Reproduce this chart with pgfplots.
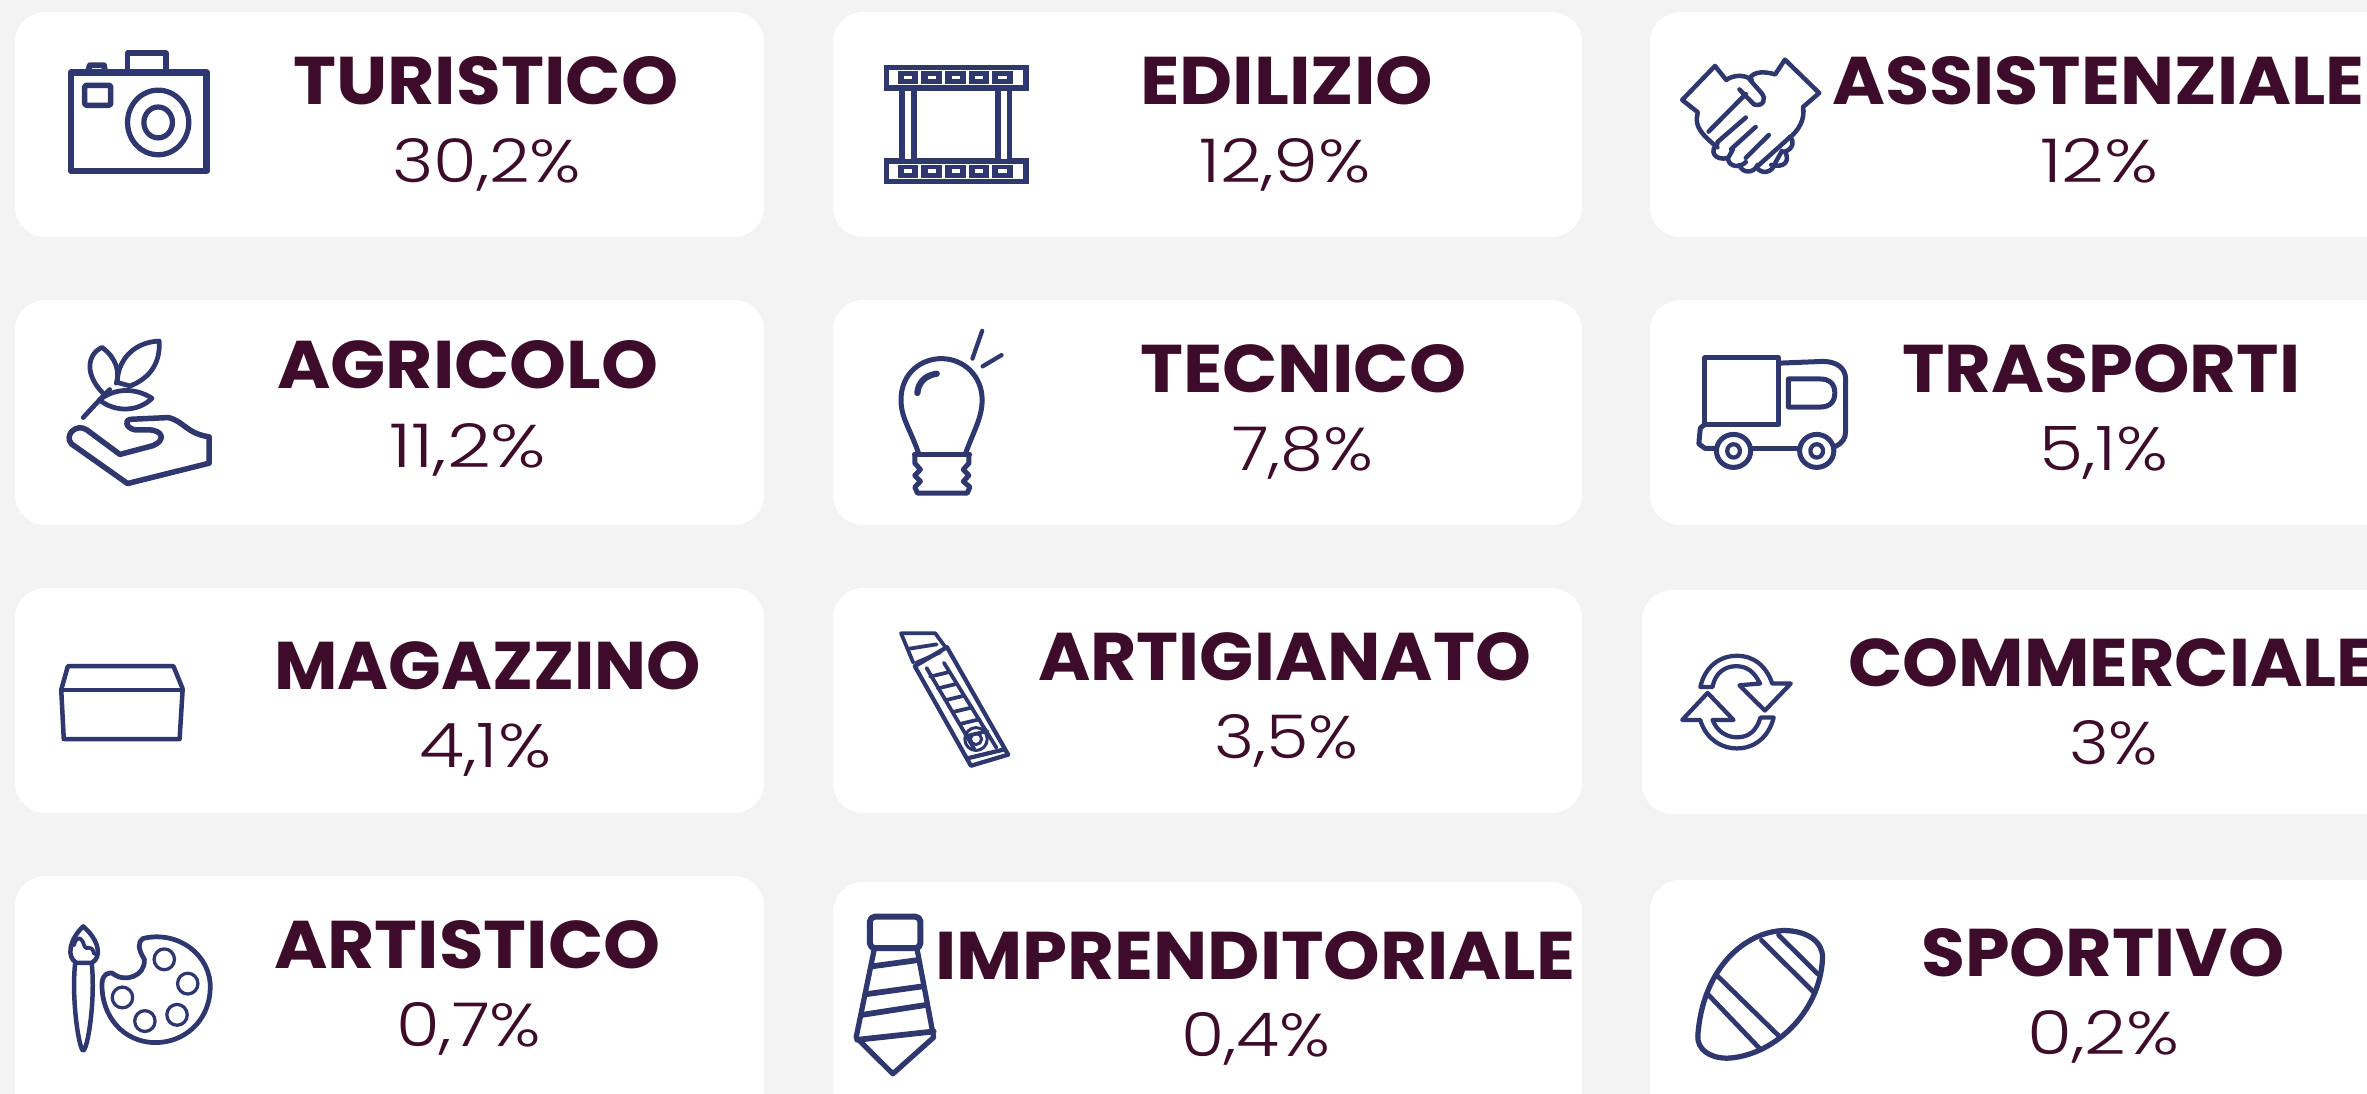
\documentclass[border=0pt]{standalone}
\usepackage{graphicx}
\usepackage{fontspec}
\usepackage{pgfplots}
\pgfplotsset{compat=1.18}
\newfontfamily\titlefont{Poppins}[BoldFont={Poppins Bold}]
\newfontfamily\valfont{Poppins Light}
\definecolor{PageBg}{HTML}{F3F3F3}
\definecolor{TitleInk}{HTML}{3D0C2A}
\definecolor{IconInk}{HTML}{2F376F}

% left, right, baseline, text (all in pixels of the reference)
\newcommand{\ttl}[4]{\node[anchor=base west,inner sep=0pt,text=TitleInk] at (axis cs:#1-3,#3)
  {\resizebox{\dimexpr#2pt-#1pt+6pt\relax}{48pt}{\titlefont\bfseries #4}};}
\newcommand{\val}[4]{\node[anchor=base west,inner sep=0pt,text=TitleInk] at (axis cs:#1-3,#3)
  {\resizebox{\dimexpr#2pt-#1pt+6pt\relax}{44pt}{\valfont #4}};}
\newcommand{\card}[4]{\addplot[fill=white,draw=none,rounded corners=30pt]
  coordinates {(#1,#2) (#3,#2) (#3,#4) (#1,#4)} -- cycle;}

% icons are written in the coordinates of the enlarged crops
\tikzset{
  crop/.style n args={4}{shift={(o)},xshift=#1pt,yshift=-#2pt,x=#3pt,y=-#4pt},
  icon/.style={draw=IconInk,line width=1.25*#1,line join=round,line cap=round},
  icon/.default=4.6pt
}

\begin{document}
\begin{tikzpicture}
\begin{axis}[
  scale only axis,
  width=2367pt,
  height=1094pt,
  xmin=0, xmax=2367,
  ymin=0, ymax=1094,
  y dir=reverse,
  hide axis
]
\addplot[fill=PageBg,draw=none] coordinates {(0,0) (2367,0) (2367,1094) (0,1094)} -- cycle;
\card{15}{12}{764}{237}
\card{833}{12}{1582}{237}
\card{1650}{12}{2420}{237}
\card{15}{300}{764}{525}
\card{833}{300}{1582}{525}
\card{1650}{300}{2420}{525}
\card{15}{588}{764}{813}
\card{833}{588}{1582}{813}
\card{1642}{590}{2420}{814}
\card{15}{876}{764}{1160}
\card{833}{882}{1582}{1160}
\card{1650}{880}{2420}{1160}

\ttl{296}{675}{105}{TURISTICO}
\val{395}{578}{183}{30,2\%}
\ttl{1143}{1430}{105}{EDILIZIO}
\val{1202}{1368}{183}{12,9\%}
\ttl{1835}{2361}{105}{ASSISTENZIALE}
\val{2043}{2155}{183}{12\%}

\ttl{280}{655}{388}{AGRICOLO}
\val{392}{543}{467}{11,2\%}
\ttl{1143}{1463}{392}{TECNICO}
\val{1235}{1370}{470}{7,8\%}
\ttl{1905}{2297}{392}{TRASPORTI}
\val{2042}{2165}{470}{5,1\%}

\ttl{277}{698}{689.5}{MAGAZZINO}
\val{422}{548}{767.5}{4,1\%}
\ttl{1041}{1528}{680}{ARTIGIANATO}
\val{1217}{1355}{758}{3,5\%}
\ttl{1851}{2372}{686}{COMMERCIALE}
\val{2072}{2155}{764}{3\%}

\ttl{277}{657}{968}{ARTISTICO}
\val{399}{538}{1046}{0,7\%}
\ttl{938}{1572}{979}{IMPRENDITORIALE}
\val{1184}{1327}{1056.5}{0,4\%}
\ttl{1924}{2281}{976}{SPORTIVO}
\val{2030}{2176}{1054}{0,2\%}

\coordinate (o) at (axis cs:0,0);
\end{axis}

% camera
\begin{scope}[crop={0}{0}{0.5102}{0.3509}]
\draw[icon=5.4pt] (139,207) rectangle (405,487);
\draw[icon=4.6pt] (250,200) -- (250,152) -- (325,152) -- (325,200);
\draw[icon=4.6pt] (172,205) -- (176,186) -- (204,186) -- (206,205);
\draw[icon=4.4pt,rounded corners=2pt] (166,243) rectangle (217,300);
\draw[icon=4.2pt] (310,349) ellipse [x radius=60,y radius=92];
\draw[icon=4.2pt] (310,349) ellipse [x radius=28,y radius=44];
\end{scope}

% plant on a hand
\begin{scope}[crop={0}{0}{0.5102}{0.3509}]
\draw[icon=3.8pt] (205,1125) .. controls (165,1070) and (170,1010) .. (200,990) .. controls (228,1020) and (235,1060) .. (228,1092);
\draw[icon=3.8pt] (230,1090) .. controls (230,1030) and (260,975) .. (312,972) .. controls (315,1040) and (290,1080) .. (255,1100) -- (230,1090);
\draw[icon=3.8pt] (195,1140) .. controls (220,1110) and (260,1100) .. (298,1135) .. controls (270,1175) and (225,1175) .. (195,1140);
\draw[icon=3.8pt] (163,1190) -- (195,1140) -- (215,1110);
\draw[icon=4.4pt] (255,1195) -- (330,1190) .. controls (360,1200) and (365,1235) .. (410,1245) -- (410,1320) -- (250,1378) -- (140,1265)
  .. controls (125,1240) and (150,1205) .. (170,1225) -- (235,1295) -- (300,1270)
  .. controls (325,1255) and (320,1225) .. (290,1225) -- (265,1225) .. controls (245,1220) and (245,1195) .. (255,1195);
\end{scope}

% film strip
\begin{scope}[crop={800}{0}{0.5102}{0.3509}]
\foreach \ys in {0,266} {
  \fill[IconInk] (165,{185+\ys}) rectangle (448,{258+\ys});
  \fill[white] (175,{200+\ys}) rectangle (438,{243+\ys});
  \fill[IconInk] (165,{215+\ys}) rectangle (172,{228+\ys});
  \fill[IconInk] (441,{215+\ys}) rectangle (448,{228+\ys});
  \foreach \xc in {212,258,305,351,397} {
    \fill[IconInk] ({\xc-20},{203+\ys}) rectangle ({\xc+20},{240+\ys});
    \fill[white] ({\xc-8},{216+\ys}) rectangle ({\xc+8},{226+\ys});
  }
}
\fill[IconInk] (195,258) rectangle (230,452);
\fill[white] (206,258) rectangle (218,452);
\fill[IconInk] (382,258) rectangle (416,452);
\fill[white] (393,258) rectangle (405,452);
\end{scope}

% light bulb
\begin{scope}[crop={800}{0}{0.5102}{0.3509}]
\draw[icon=4pt] (232,1290) .. controls (215,1220) and (198,1190) .. (198,1140) .. controls (198,1060) and (240,1022) .. (277,1022)
  .. controls (320,1022) and (357,1070) .. (357,1140) .. controls (357,1190) and (340,1230) .. (325,1290);
\draw[icon=4.4pt] (225,1295) -- (332,1295);
\draw[icon=4pt] (225,1295) -- (225,1320) -- (236,1338) -- (225,1355) -- (236,1372) -- (225,1388) -- (230,1405) -- (328,1405)
  -- (333,1388) -- (320,1372) -- (331,1355) -- (320,1338) -- (331,1320) -- (331,1295);
\draw[icon=5pt] (230,1120) .. controls (232,1090) and (245,1070) .. (268,1065);
\draw[icon=3.4pt] (338,1022) -- (357,943);
\draw[icon=3.4pt] (358,1044) -- (395,1012);
\end{scope}

% handshake
\begin{scope}[crop={1600}{0}{0.4892}{0.3509}]
\draw[icon=3.6pt] (222,375) -- (298,268);
\draw[icon=3.6pt] (240,420) .. controls (195,370) and (195,350) .. (200,320) -- (168,285) -- (235,188) -- (258,228) .. controls (270,215) and (295,210) .. (310,228);
\draw[icon=3.6pt] (285,255) -- (315,298) .. controls (335,305) and (340,280) .. (330,265) -- (305,225)
  .. controls (315,200) and (340,205) .. (358,212) -- (378,170) -- (448,265) -- (415,305) .. controls (420,340) and (405,375) .. (385,395) -- (325,470);
\draw[icon=3.6pt] (240,405) -- (298,335);
\draw[icon=3.6pt] (268,425) -- (318,362);
\draw[icon=3.6pt] (298,450) -- (345,385);
\draw[icon=3.6pt] (240,410) .. controls (222,430) and (235,460) .. (262,450) -- (272,425);
\draw[icon=3.6pt] (262,455) .. controls (265,475) and (285,480) .. (298,462);
\draw[icon=3.6pt] (285,470) .. controls (290,495) and (315,495) .. (322,470);
\draw[icon=3.6pt] (322,480) .. controls (330,495) and (352,495) .. (358,465) -- (372,430);
\draw[icon=3.6pt] (350,470) .. controls (375,480) and (390,460) .. (378,432) .. controls (395,425) and (398,400) .. (388,390);
\end{scope}

% truck
\begin{scope}[crop={1600}{0}{0.4892}{0.3509}]
\draw[icon=4pt] (214,1020) rectangle (365,1210);
\draw[icon=4pt] (365,1035) -- (455,1030) .. controls (485,1030) and (502,1050) .. (502,1080) -- (502,1230) .. controls (502,1250) and (495,1262) .. (482,1272);
\draw[icon=4pt] (385,1080) -- (450,1080) .. controls (470,1080) and (480,1095) .. (480,1120) .. controls (480,1145) and (470,1160) .. (450,1160) -- (385,1160) -- cycle;
\draw[icon=4pt] (214,1210) -- (205,1220) -- (202,1265) -- (215,1278) -- (238,1278);
\draw[icon=4pt] (308,1278) -- (408,1278);
\foreach \xc in {273,443} {
  \draw[icon=4pt] (\xc,1285) ellipse [x radius=35,y radius=47];
  \draw[icon=3.4pt] (\xc,1285) ellipse [x radius=13,y radius=19];
}
\end{scope}

% box
\begin{scope}[crop={0}{550}{0.5102}{0.3469}]
\draw[icon=3.6pt] (120,403) -- (133,335) -- (340,335) -- (358,400);
\draw[icon=3.6pt] (120,403) -- (358,403);
\draw[icon=3.6pt] (120,403) -- (125,545) -- (352,545) -- (358,403);
\end{scope}

% brush and palette
\begin{scope}[crop={0}{550}{0.5102}{0.3469}]
\draw[icon=3.6pt] (163,1085) .. controls (135,1125) and (130,1175) .. (150,1190) -- (180,1190) .. controls (200,1175) and (195,1125) .. (163,1085) -- cycle;
\draw[icon=3pt] (145,1140) .. controls (150,1110) and (160,1115) .. (165,1140) .. controls (170,1160) and (178,1130) .. (185,1165);
\draw[icon=3.6pt] (147,1195) .. controls (140,1300) and (155,1440) .. (163,1443) .. controls (172,1440) and (187,1300) .. (180,1195);
\draw[icon=3.8pt] (280,1120) .. controls (350,1095) and (415,1170) .. (412,1265) .. controls (410,1360) and (360,1420) .. (305,1420)
  .. controls (240,1420) and (198,1340) .. (200,1250) .. controls (200,1225) and (215,1210) .. (225,1225)
  .. controls (245,1245) and (285,1230) .. (283,1180) .. controls (270,1150) and (270,1130) .. (280,1120) -- cycle;
\foreach \xc/\yc in {322/1180,368/1250,347/1340,284/1358,240/1290}
  \draw[icon=2.6pt] (\xc,\yc) ellipse [x radius=20,y radius=30];
\end{scope}

% cutter
\begin{scope}[crop={800}{550}{0.5102}{0.3469}]
\draw[icon=3pt] (222,325) -- (198,240) -- (265,240) -- (285,280);
\draw[icon=3pt] (212,285) -- (268,272);
\draw[icon=3.4pt] (225,335) -- (288,280) -- (408,590) -- (335,622) -- cycle;
\draw[icon=3pt] (228,325) -- (275,295);
\draw[icon=3pt] (248,340) -- (342,575);
\draw[icon=3pt] (282,325) -- (385,570);
\foreach \t in {0,1,2,3,4,5}
  \draw[icon=3pt] ({255+\t*15},{365+\t*34}) -- ({292+\t*15},{352+\t*34});
\draw[icon=2.4pt] (345,545) ellipse [x radius=22,y radius=33];
\draw[icon=2.4pt] (345,545) ellipse [x radius=11,y radius=16];
\draw[icon=3.4pt] (330,600) -- (400,575);
\end{scope}

% tie
\begin{scope}[crop={800}{550}{0.5102}{0.3469}]
\draw[icon=4.8pt,rounded corners=5pt] (137,1057) rectangle (236,1148);
\draw[icon=4.2pt] (145,1155) -- (110,1405) -- (182,1510) -- (262,1405) -- (230,1155);
\draw[icon=4.6pt] (142,1200) -- (232,1182);
\draw[icon=4.6pt] (132,1280) -- (240,1258);
\draw[icon=4.6pt] (122,1340) -- (245,1312);
\draw[icon=4.6pt] (112,1412) -- (262,1388);
\end{scope}

% arrows
\begin{scope}[crop={1600}{550}{0.4892}{0.3469}]
\draw[icon=3.4pt] (205,395) .. controls (215,335) and (245,305) .. (280,305) .. controls (315,305) and (340,335) .. (352,385) -- (390,385) -- (337,463) -- (285,390) -- (327,385)
  .. controls (315,350) and (300,335) .. (278,335) .. controls (255,335) and (235,355) .. (230,395) -- cycle;
\draw[icon=3.4pt] (355,483) .. controls (345,540) and (315,572) .. (280,572) .. controls (245,572) and (215,540) .. (205,490) -- (168,490) -- (220,412) -- (273,490) -- (230,490)
  .. controls (240,525) and (260,540) .. (280,540) .. controls (305,540) and (320,520) .. (328,483) -- cycle;
\end{scope}

% ball
\begin{scope}[crop={1600}{550}{0.4892}{0.3469}]
\draw[icon=4.2pt] (375,1097) .. controls (300,1100) and (210,1200) .. (200,1400) .. controls (198,1440) and (225,1465) .. (260,1465)
  .. controls (350,1460) and (450,1340) .. (455,1175) .. controls (455,1130) and (425,1097) .. (375,1097) -- cycle;
\draw[icon=3.8pt] (330,1125) -- (437,1275);
\draw[icon=3.8pt] (365,1110) -- (445,1222);
\draw[icon=3.8pt] (238,1225) -- (365,1400);
\draw[icon=3.8pt] (220,1280) -- (325,1435);
\end{scope}

\pgfresetboundingbox
\path[use as bounding box] (o) rectangle ([xshift=2367pt,yshift=-1094pt]o);
\end{tikzpicture}
\end{document}
